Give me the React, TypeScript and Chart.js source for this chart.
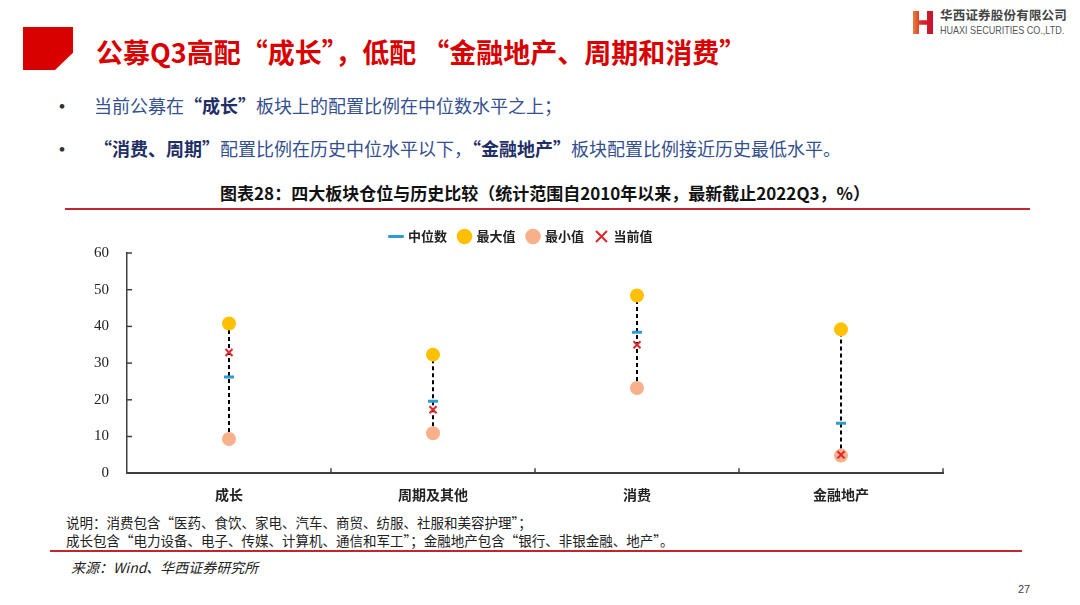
import { useEffect, useRef } from 'react';
import { Chart, registerables } from 'chart.js';

Chart.register(...registerables);

// 数据
const categories = ['成长', '周期及其他', '消费', '金融地产'];
const medianValues = [26.2, 19.6, 38.4, 13.6];
const maxValues = [40.8, 32.3, 48.4, 39.2];
const minValues = [9.3, 10.9, 23.2, 4.8];
const currentValues = [32.9, 17.3, 35.0, 5.0];
const seriesNames = ['中位数', '最大值', '最小值', '当前值'];
const yMin = 0;
const yMax = 60;
const yStep = 10;

const CJK = '"Noto Sans CJK SC", "Noto Sans", sans-serif';

// 最小值到最大值的虚线
const rangeLinePlugin = {
  id: 'rangeLines',
  beforeDatasetsDraw(chart: any) {
    const { ctx, scales } = chart;
    const x = scales.x;
    const y = scales.y;
    ctx.save();
    ctx.strokeStyle = '#000';
    ctx.lineWidth = 2;
    ctx.setLineDash([4, 3]);
    categories.forEach((_, i) => {
      const px = x.getPixelForValue(i);
      ctx.beginPath();
      ctx.moveTo(px, y.getPixelForValue(minValues[i]));
      ctx.lineTo(px, y.getPixelForValue(maxValues[i]));
      ctx.stroke();
    });
    ctx.restore();
  },
};

// 向内的刻度线
const innerTicksPlugin = {
  id: 'innerTicks',
  afterDraw(chart: any) {
    const { ctx, scales, chartArea } = chart;
    ctx.save();
    ctx.strokeStyle = '#404040';
    ctx.lineWidth = 1.5;
    scales.y.ticks.forEach((t: any) => {
      const py = scales.y.getPixelForValue(t.value);
      ctx.beginPath();
      ctx.moveTo(chartArea.left, py);
      ctx.lineTo(chartArea.left + 5, py);
      ctx.stroke();
    });
    for (let k = 1; k <= categories.length; k++) {
      const px = scales.x.getPixelForValue(k - 0.5);
      ctx.beginPath();
      ctx.moveTo(px, chartArea.bottom);
      ctx.lineTo(px, chartArea.bottom - 5);
      ctx.stroke();
    }
    ctx.restore();
  },
};

// 图例略向右移
const legendShiftPlugin = {
  id: 'legendShift',
  afterLayout(chart: any) {
    if (chart.legend) {
      chart.legend.left += 30;
      chart.legend.right += 30;
    }
  },
};

function RangeChart() {
  const canvasRef = useRef<HTMLCanvasElement>(null);
  const chartRef = useRef<Chart | null>(null);

  useEffect(() => {
    if (!canvasRef.current) return;
    if (chartRef.current) chartRef.current.destroy();

    chartRef.current = new Chart(canvasRef.current, {
      type: 'line',
      data: {
        labels: categories,
        datasets: [
          {
            label: seriesNames[0],
            data: medianValues,
            showLine: false,
            pointStyle: 'line',
            pointRadius: 5,
            pointBorderWidth: 3,
            borderColor: '#2E9BD6',
            backgroundColor: '#2E9BD6',
            order: 1,
          },
          {
            label: seriesNames[1],
            data: maxValues,
            showLine: false,
            pointStyle: 'circle',
            pointRadius: 7,
            pointBorderWidth: 0,
            borderColor: '#FFC000',
            backgroundColor: '#FFC000',
            order: 2,
          },
          {
            label: seriesNames[2],
            data: minValues,
            showLine: false,
            pointStyle: 'circle',
            pointRadius: 7,
            pointBorderWidth: 0,
            borderColor: '#F7B08A',
            backgroundColor: '#F7B08A',
            order: 3,
          },
          {
            label: seriesNames[3],
            data: currentValues,
            showLine: false,
            pointStyle: 'crossRot',
            pointRadius: 5,
            pointBorderWidth: 2,
            borderColor: '#E0262B',
            backgroundColor: '#E0262B',
            order: 0,
          },
        ],
      },
      options: {
        responsive: false,
        animation: false,
        layout: { padding: { left: 0, right: 57, top: 0, bottom: 0 } },
        plugins: {
          legend: {
            position: 'top',
            labels: {
              usePointStyle: true,
              boxWidth: 11,
              boxHeight: 11,
              padding: 12,
              color: '#222',
              font: { family: CJK, size: 13, weight: 'bold' },
              sort: (a: any, b: any) => a.datasetIndex - b.datasetIndex,
            },
          },
          tooltip: { enabled: false },
        },
        scales: {
          x: {
            offset: true,
            grid: { display: false },
            border: { display: true, color: '#404040', width: 2 },
            ticks: {
              color: '#222',
              padding: 5,
              font: { family: CJK, size: 14, weight: 'bold' },
            },
          },
          y: {
            min: yMin,
            max: yMax,
            grid: { display: false },
            border: { display: true, color: '#404040', width: 1.5 },
            ticks: {
              stepSize: yStep,
              color: '#222',
              padding: 10,
              font: { family: '"Liberation Serif", serif', size: 15 },
            },
            afterFit: (s: any) => {
              s.width = 87;
            },
          },
        },
      },
      plugins: [rangeLinePlugin, innerTicksPlugin, legendShiftPlugin],
    });

    return () => {
      if (chartRef.current) {
        chartRef.current.destroy();
        chartRef.current = null;
      }
    };
  }, []);

  return <canvas ref={canvasRef} width={960} height={290} style={{ width: 960, height: 290 }} />;
}

export default function App() {
  const navy = '#1F2F66';
  const blue = '#34508F';
  return (
    <div
      style={{
        position: 'absolute',
        left: 0,
        top: 0,
        width: 1080,
        height: 605,
        background: '#fff',
        overflow: 'hidden',
        fontFamily: CJK,
      }}
    >
      {/* 左上红色块 */}
      <div
        style={{
          position: 'absolute',
          left: 23,
          top: 27,
          width: 50,
          height: 43,
          background: '#D90000',
          clipPath: 'polygon(0 0, 100% 0, 100% 60%, 64% 100%, 0 100%)',
        }}
      />
      <div
        style={{
          position: 'absolute',
          left: 96,
          top: 37,
          fontSize: 27,
          lineHeight: '30px',
          fontWeight: 'bold',
          color: '#D90000',
          whiteSpace: 'nowrap',
        }}
      >
        公募Q3高配“成长”，低配 “金融地产、周期和消费”
      </div>

      {/* logo */}
      <div
        style={{
          position: 'absolute',
          left: 913,
          top: 11,
          width: 20,
          height: 23,
          background: 'linear-gradient(90deg, #E8823A 0%, #D7262A 45%, #C8102E 100%)',
          clipPath:
            'polygon(0 0, 30% 0, 30% 40%, 70% 40%, 70% 0, 100% 0, 100% 100%, 70% 100%, 70% 60%, 30% 60%, 30% 100%, 0 100%)',
        }}
      />
      <div
        style={{
          position: 'absolute',
          left: 940,
          top: 7,
          fontSize: 12.5,
          lineHeight: '16px',
          fontWeight: 'bold',
          color: '#444',
          whiteSpace: 'nowrap',
          letterSpacing: 0.2,
        }}
      >
        华西证券股份有限公司
      </div>
      <div
        style={{
          position: 'absolute',
          left: 940,
          top: 23,
          fontSize: 10.5,
          lineHeight: '14px',
          color: '#555',
          whiteSpace: 'nowrap',
          fontFamily: '"Liberation Sans", sans-serif',
          transform: 'scaleX(0.86)',
          transformOrigin: 'left top',
        }}
      >
        HUAXI SECURITIES CO.,LTD.
      </div>

      {/* 要点 */}
      <div style={{ position: 'absolute', left: 51, top: 91, fontSize: 22, lineHeight: '26px', color: '#333' }}>•</div>
      <div
        style={{
          position: 'absolute',
          left: 94,
          top: 93,
          fontSize: 18,
          lineHeight: '24px',
          color: blue,
          whiteSpace: 'nowrap',
        }}
      >
        当前公募在<b style={{ color: navy }}>“成长”</b>板块上的配置比例在中位数水平之上；
      </div>
      <div style={{ position: 'absolute', left: 51, top: 134, fontSize: 22, lineHeight: '26px', color: '#333' }}>•</div>
      <div
        style={{
          position: 'absolute',
          left: 94,
          top: 136,
          fontSize: 18,
          lineHeight: '24px',
          color: blue,
          whiteSpace: 'nowrap',
        }}
      >
        <b style={{ color: navy }}>“消费、周期”</b>配置比例在历史中位水平以下，<b style={{ color: navy }}>“金融地产”</b>
        板块配置比例接近历史最低水平。
      </div>

      {/* 图表标题 */}
      <div
        style={{
          position: 'absolute',
          left: 0,
          width: 1090,
          top: 182,
          textAlign: 'center',
          fontSize: 17,
          lineHeight: '22px',
          fontWeight: 'bold',
          color: '#111',
          whiteSpace: 'nowrap',
        }}
      >
        图表28：四大板块仓位与历史比较（统计范围自2010年以来，最新截止2022Q3，%）
      </div>
      <div style={{ position: 'absolute', left: 65, top: 208, width: 965, height: 2, background: '#C0262D' }} />

      {/* 图 */}
      <div style={{ position: 'absolute', left: 40, top: 218 }}>
        <RangeChart />
      </div>

      {/* 说明 */}
      <div
        style={{
          position: 'absolute',
          left: 66,
          top: 513,
          fontSize: 13.5,
          lineHeight: '18px',
          color: '#222',
          whiteSpace: 'nowrap',
        }}
      >
        说明：消费包含“医药、食饮、家电、汽车、商贸、纺服、社服和美容护理”；
        <br />
        成长包含“电力设备、电子、传媒、计算机、通信和军工”；金融地产包含“银行、非银金融、地产”。
      </div>
      <div style={{ position: 'absolute', left: 50, top: 550, width: 972, height: 2, background: '#C0262D' }} />
      <div
        style={{
          position: 'absolute',
          left: 71,
          top: 558,
          fontSize: 14,
          lineHeight: '18px',
          fontStyle: 'italic',
          color: '#222',
          whiteSpace: 'nowrap',
        }}
      >
        来源：Wind、华西证券研究所
      </div>
      <div
        style={{
          position: 'absolute',
          left: 1018,
          top: 582,
          fontSize: 11,
          lineHeight: '14px',
          color: '#444',
          fontFamily: '"Liberation Sans", sans-serif',
        }}
      >
        27
      </div>
    </div>
  );
}
